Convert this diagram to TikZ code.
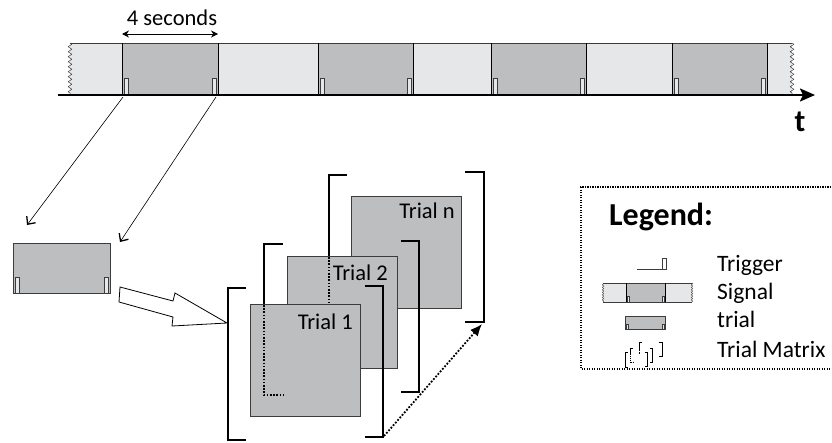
\documentclass[tikz,border=0pt]{standalone}
\usepackage{fontspec}
\setmainfont{Carlito}
\usetikzlibrary{arrows.meta,decorations.pathmorphing}
\definecolor{sigdark}{RGB}{188,190,192}
\definecolor{siglight}{RGB}{230,231,232}
\definecolor{edge}{RGB}{60,60,60}
\tikzset{
  divider/.style={draw=black,line width=0.7pt},
  trig/.style={draw=edge,line width=0.5pt,fill=siglight},
  wavy/.style={draw=edge,line width=0.5pt,decorate,decoration={zigzag,segment length=5pt,amplitude=1.8pt}},
  smallwavy/.style={draw=edge,line width=0.4pt,decorate,decoration={zigzag,segment length=2.5pt,amplitude=0.8pt}},
  trialsq/.style={draw=edge,line width=0.8pt,fill=sigdark,minimum width=110pt,minimum height=112pt,inner sep=0pt,outer sep=0pt},
  brk/.style={draw=black,line width=1.6pt},
  brkdot/.style={draw=black,line width=1.6pt,dash pattern=on 1.6pt off 1.6pt},
  thinarrow/.style={draw=black,line width=0.6pt,-{Straight Barb[length=6pt,width=11pt,line width=1.3pt]}},
  lbl/.style={font=\fontsize{22.5}{25}\selectfont,inner sep=0pt},
  legtext/.style={font=\fontsize{23.5}{26}\selectfont,inner sep=0pt,anchor=base west},
}
\newcommand\drawbracketset[2]{%
  \draw[#1] (246,288) -- (228,288) -- (228,440) -- (246,440);
  \draw[#1] (365,286) -- (383,286) -- (383,437) -- (365,437);
  \draw[#1] (283,244) -- (264,244) -- (264,304);
  \draw[#2] (264,304) -- (264,395) -- (284,395);
  \draw[#1] (401,241) -- (419,241) -- (419,392) -- (401,392);
  \draw[#1] (347,175) -- (329,175) -- (329,256);
  \draw[#2] (329,256) -- (329,304);
  \draw[#1] (465,172) -- (484,172) -- (484,322) -- (465,322);
}
\begin{document}
\begin{tikzpicture}[x=1pt,y=-1pt]
\useasboundingbox (0,0) rectangle (832,442);
% ---- signal timeline ----
\fill[siglight] (70,43) rectangle (122,95);
\foreach \a/\b in {122/218,318/413,491/586,672/767} \fill[sigdark] (\a,43) rectangle (\b,95);
\foreach \a/\b in {218/318,413/491,586/672,767/792} \fill[siglight] (\a,43) rectangle (\b,95);
\draw[edge,line width=0.7pt] (70,43) -- (792,43);
\foreach \x in {122,218,318,413,491,586,672,767} \draw[divider] (\x,43) -- (\x,95);
\foreach \a/\b in {122/218,318/413,491/586,672/767} {
  \draw[trig] (\a+2,78) rectangle (\a+6,95);
  \draw[trig] (\b-6,78) rectangle (\b-2,95);
}
\draw[wavy] (70,43) -- (70,95);
\draw[wavy] (792,43) -- (792,95);
\coordinate (axL) at (58,95);
\coordinate (axR) at (815,95);
\draw[line width=2.2pt,-{Stealth[length=15pt,width=13pt,inset=3pt]}] (axL) -- (axR);
\node[font=\fontsize{31}{31}\selectfont\bfseries,anchor=base,inner sep=0pt] (tlab) at (800,131) {t};
% ---- 4 seconds ----
\coordinate (dA) at (122,34);
\coordinate (dB) at (218,34);
\draw[line width=1pt,{Stealth[length=7pt,width=7pt]}-{Stealth[length=7pt,width=7pt]}] (dA) -- (dB);
\node[lbl,anchor=base] (secs) at (172,25) {4 seconds};
% ---- single trial ----
\node[draw=edge,fill=sigdark,line width=0.8pt,minimum width=97pt,minimum height=50pt,inner sep=0pt] (trial) at (61.5,268) {};
\draw[trig] (15,277) rectangle (19,293);
\draw[trig] (104,277) rectangle (108,293);
\coordinate (s1) at (123,97);
\coordinate (e1) at (27,225);
\coordinate (s2) at (216,97);
\coordinate (e2) at (120,242);
\draw[thinarrow] (s1) -- (e1);
\draw[thinarrow] (s2) -- (e2);
% hollow arrow
\draw[fill=white,line width=0.8pt,line join=miter] (120,287) -- (173,301) -- (175,293) -- (227,323) -- (172,326) -- (173,317) -- (119,302) -- cycle;
% ---- trial matrix ----
\node[trialsq] (tn) at (406.5,252) {};
\node[anchor=base east,lbl] at (455,218) {Trial n};
\draw[brk] (465,172) -- (484,172) -- (484,322) -- (465,322);
\draw[brk] (347,175) -- (329,175) -- (329,256);
\node[trialsq] (t2) at (342.5,312) {};
\node[anchor=base east,lbl] at (388,280) {Trial 2};
\draw[brkdot] (329,257) -- (329,304);
\draw[brk] (401,241) -- (419,241) -- (419,392) -- (401,392);
\draw[brk] (283,244) -- (264,244) -- (264,304);
\node[trialsq] (t1) at (305,360.5) {};
\node[anchor=base east,lbl] at (353,329) {Trial 1};
\draw[brkdot] (264,305) -- (264,395) -- (284,395);
\draw[brk] (246,288) -- (228,288) -- (228,440) -- (246,440);
\draw[brk] (365,286) -- (383,286) -- (383,437) -- (365,437);
\coordinate (b1corner) at (384,436);
\coordinate (bncorner) at (482,324);
\draw[line width=1.8pt,dash pattern=on 1.8pt off 1.6pt,-{Latex[length=12pt,width=10pt]}] (b1corner) -- (bncorner);
% ---- legend ----
\draw[line width=1.2pt,dash pattern=on 1.2pt off 1.3pt] (836,187) -- (581,187) -- (581,369) -- (836,369);
\node[font=\fontsize{32}{34}\selectfont\bfseries,anchor=base west,inner sep=0pt] at (609,225) {Legend:};
% trigger icon
\draw[edge,line width=0.6pt] (637,269) -- (662,269);
\draw[trig,fill=white] (662,258) rectangle (666,269);
\node[legtext] at (717,271) {Trigger};
% signal icon
\fill[siglight] (603,283) rectangle (626,302);
\fill[sigdark] (626,283) rectangle (665,302);
\fill[siglight] (665,283) rectangle (692,302);
\draw[edge,line width=0.5pt] (603,283) -- (692,283) (603,302) -- (692,302);
\draw[divider,line width=0.6pt] (626,283) -- (626,302) (665,283) -- (665,302);
\draw[trig,line width=0.4pt] (627,296) rectangle (629,302);
\draw[trig,line width=0.4pt] (662,296) rectangle (664,302);
\draw[smallwavy] (603,283) -- (603,302);
\draw[smallwavy] (692,283) -- (692,302);
\node[legtext] at (717,299) {Signal};
% trial icon
\draw[fill=sigdark,draw=edge,line width=0.6pt] (625,316) rectangle (665,329);
\draw[trig,line width=0.4pt] (626,324) rectangle (628,329);
\draw[trig,line width=0.4pt] (662,324) rectangle (664,329);
\node[legtext] at (717,327) {trial};
% trial matrix icon
\begin{scope}[shift={(625,342)},xscale=0.1445,yscale=0.0933,shift={(-228,-172)}]
\drawbracketset{draw=black,line width=0.9pt}{draw=black,line width=0.9pt,dash pattern=on 0.9pt off 0.9pt}
\end{scope}
\node[legtext] at (717,357) {Trial Matrix};
\end{tikzpicture}
\end{document}
